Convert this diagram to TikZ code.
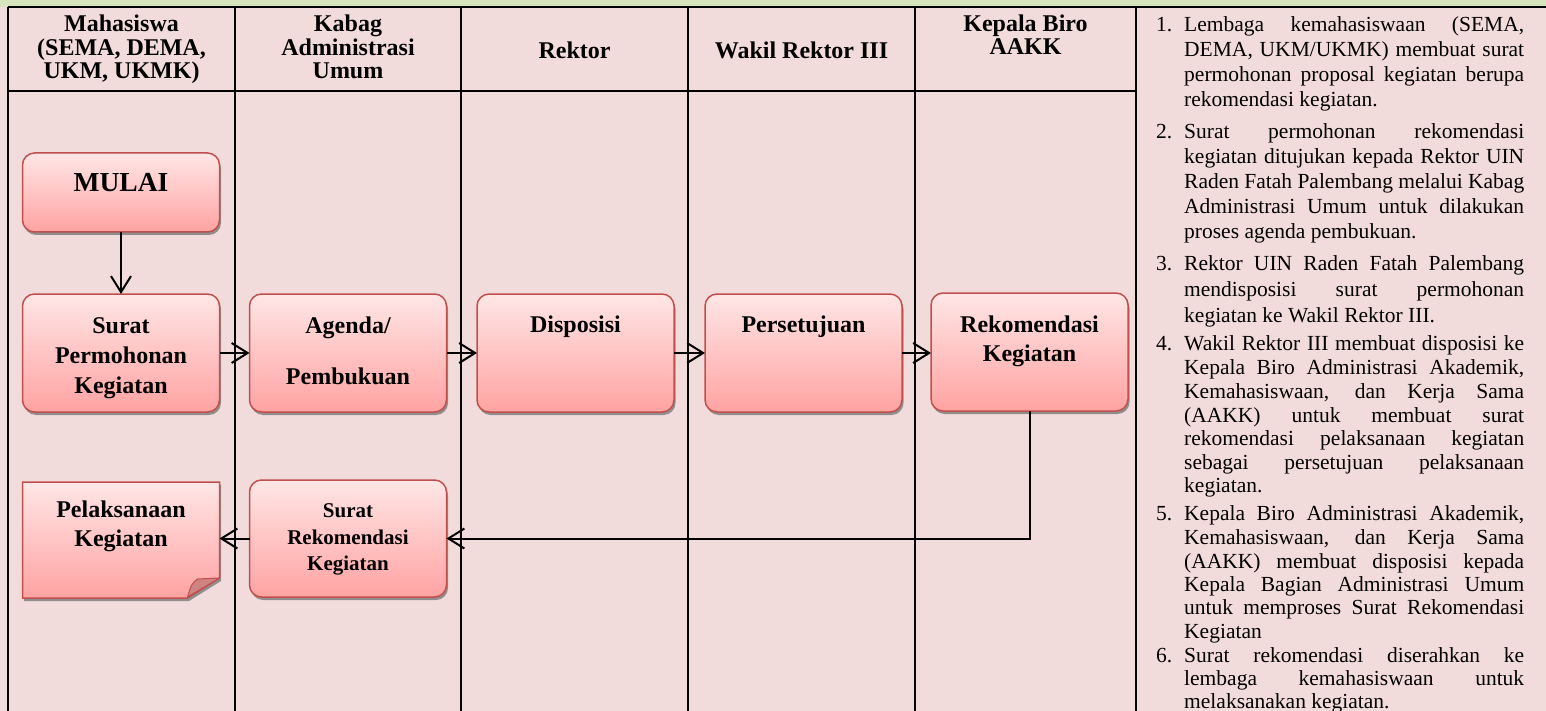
\documentclass[tikz,border=0pt]{standalone}
\usepackage{fontspec}
\setmainfont{Liberation Serif}
\usetikzlibrary{arrows.meta,shadows,calc}
\definecolor{bandgreen}{RGB}{215,228,189}
\definecolor{bgpink}{RGB}{242,220,219}
\definecolor{boxtop}{RGB}{255,230,230}
\definecolor{boxbot}{RGB}{255,163,162}
\definecolor{boxline}{RGB}{192,80,77}
\definecolor{foldfill}{RGB}{205,132,130}
\tikzset{
  shadowed/.style={drop shadow={shadow xshift=1.5pt, shadow yshift=-3pt, fill=black!55, opacity=0.75}},
  boxstyle/.style={draw=boxline, line width=1.5pt, top color=boxtop, bottom color=boxbot,
    minimum width=197pt, inner sep=0pt, outer sep=0pt, shadowed},
  rbox/.style={boxstyle, rounded corners=12pt},
  ghost/.style={minimum width=197pt, inner sep=0pt, outer sep=0pt},
  gridline/.style={line width=2pt, black},
  arr/.style={line width=2pt, -{Straight Barb[length=16pt,width=20pt,line width=2pt]}},
  htxt/.style={font=\fontsize{24}{28}\selectfont\bfseries, anchor=base, inner sep=0pt},
  btxt/.style={font=\fontsize{24}{28}\selectfont\bfseries, anchor=base, inner sep=0pt},
  stxt/.style={font=\fontsize{21}{25}\selectfont\bfseries, anchor=base, inner sep=0pt},
  rtxt/.style={font=\fontsize{21.5}{25}\selectfont, anchor=base west, inner sep=0pt},
}
\newcommand{\jusln}[3]{\node[rtxt] (#1) at (1184,#2) {\makebox[340pt][s]{#3}};}
\newcommand{\lastln}[3]{\node[rtxt] (#1) at (1184,#2) {#3};}
\newcommand{\numln}[3]{\node[rtxt] (#1) at (1156,#2) {#3};}
\begin{document}
\begin{tikzpicture}[x=1pt,y=-1pt]
\useasboundingbox (0,0) rectangle (1546,711);
% background
\fill[bgpink] (0,0) rectangle (1546,711);
\fill[bandgreen] (0,0) rectangle (1546,7);
% table grid
\draw[gridline] (7.5,7) -- (1546,7);
\draw[gridline] (7.5,7) -- (7.5,711);
\foreach \cx in {235,461,688,915,1136} {\draw[gridline] (\cx,7) -- (\cx,711);}
\draw[gridline] (7.5,91) -- (1136,91);
% headers
\node[htxt] (h1a) at (121.5,32) {Mahasiswa};
\node[htxt] (h1b) at (121.5,55.5) {(SEMA, DEMA,};
\node[htxt] (h1c) at (121.5,79) {UKM, UKMK)};
\node[htxt] (h2a) at (348,32) {Kabag};
\node[htxt] (h2b) at (348,55.5) {Administrasi};
\node[htxt] (h2c) at (348,79) {Umum};
\node[htxt] (h3) at (574.5,59) {Rektor};
\node[htxt] (h4) at (801.5,59) {Wakil Rektor III};
\node[htxt] (h5a) at (1025.5,32) {Kepala Biro};
\node[htxt] (h5b) at (1025.5,55) {AAKK};
% boxes
\node[rbox, minimum height=79pt] (m) at (121,192.5) {};
\node[rbox, minimum height=118pt] (s1) at (121,353) {};
\node[rbox, minimum height=118pt] (ag) at (348,353) {};
\node[rbox, minimum height=118pt] (di) at (575.5,353) {};
\node[rbox, minimum height=118pt] (ps) at (803.5,353) {};
\node[rbox, minimum height=118pt] (rk) at (1029.5,352) {};
\node[rbox, minimum height=117pt] (sr) at (348,538.5) {};
\node[ghost, minimum height=116pt] (pk) at (121,540) {};
% folded document shape
\path[draw=boxline, line width=1.5pt, top color=boxtop, bottom color=boxbot, shadowed]
  (pk.north west) -- (pk.north east) -- ([yshift=20pt]pk.south east)
  -- ([xshift=-32pt]pk.south east) -- (pk.south west) -- cycle;
\filldraw[fill=foldfill, draw=boxline, line width=1pt, line join=round]
  ([xshift=-32pt,yshift=1pt]pk.south east) .. controls ([xshift=-28pt,yshift=14pt]pk.south east) .. ([xshift=-22pt,yshift=19pt]pk.south east)
  -- ([yshift=20pt]pk.south east) -- cycle;
% box texts
\node[btxt, font=\fontsize{27.5}{32}\selectfont\bfseries] (mt) at (121,192) {MULAI};
\node[btxt] (s1a) at (121,333) {Surat};
\node[btxt] (s1b) at (121,363) {Permohonan};
\node[btxt] (s1c) at (121,393) {Kegiatan};
\node[btxt] (aga) at (348,333) {Agenda/};
\node[btxt] (agb) at (348,384) {Pembukuan};
\node[btxt] (dit) at (575.5,332) {Disposisi};
\node[btxt] (pst) at (803.5,332) {Persetujuan};
\node[btxt] (rka) at (1029.5,332) {Rekomendasi};
\node[btxt] (rkb) at (1029.5,361) {Kegiatan};
\node[stxt] (sra) at (348,517) {Surat};
\node[stxt] (srb) at (348,544) {Rekomendasi};
\node[stxt] (src) at (348,570) {Kegiatan};
\node[btxt] (pka) at (121,517) {Pelaksanaan};
\node[btxt] (pkb) at (121,546) {Kegiatan};
% connectors
\draw[arr] (m) -- (s1);
\draw[arr] (s1) -- (ag);
\draw[arr] (ag) -- (di);
\draw[arr] (di) -- (ps);
\draw[arr] (ps.east) -- (ps.east -| rk.west);
\draw[arr] (rk.south) |- (sr.east);
\draw[arr] (sr.west) -- (sr.west -| pk.east);
% right column text
\numln{n1}{32}{1.}
\jusln{l1a}{32}{Lembaga kemahasiswaan (SEMA,}
\jusln{l1b}{57}{DEMA, UKM/UKMK) membuat surat}
\jusln{l1c}{82}{permohonan proposal kegiatan berupa}
\lastln{l1d}{107}{rekomendasi kegiatan.}
\numln{n2}{139}{2.}
\jusln{l2a}{139}{Surat permohonan rekomendasi}
\jusln{l2b}{164}{kegiatan ditujukan kepada Rektor UIN}
\jusln{l2c}{189}{Raden Fatah Palembang melalui Kabag}
\jusln{l2d}{214}{Administrasi Umum untuk dilakukan}
\lastln{l2e}{239}{proses agenda pembukuan.}
\numln{n3}{270}{3.}
\jusln{l3a}{270}{Rektor UIN Raden Fatah Palembang}
\jusln{l3b}{296}{mendisposisi surat permohonan}
\lastln{l3c}{322}{kegiatan ke Wakil Rektor III.}
\numln{n4}{350}{4.}
\jusln{l4a}{350}{Wakil Rektor III membuat disposisi ke}
\jusln{l4b}{374}{Kepala Biro Administrasi Akademik,}
\jusln{l4c}{398}{Kemahasiswaan, dan Kerja Sama}
\jusln{l4d}{422}{(AAKK) untuk membuat surat}
\jusln{l4e}{445}{rekomendasi pelaksanaan kegiatan}
\jusln{l4f}{469}{sebagai persetujuan pelaksanaan}
\lastln{l4g}{492}{kegiatan.}
\numln{n5}{520}{5.}
\jusln{l5a}{520}{Kepala Biro Administrasi Akademik,}
\jusln{l5b}{544}{Kemahasiswaan, dan Kerja Sama}
\jusln{l5c}{568}{(AAKK) membuat disposisi kepada}
\jusln{l5d}{591}{Kepala Bagian Administrasi Umum}
\jusln{l5e}{614}{untuk memproses Surat Rekomendasi}
\lastln{l5f}{638}{Kegiatan}
\numln{n6}{662}{6.}
\jusln{l6a}{662}{Surat rekomendasi diserahkan ke}
\jusln{l6b}{685}{lembaga kemahasiswaan untuk}
\lastln{l6c}{708}{melaksanakan kegiatan.}
\end{tikzpicture}
\end{document}
